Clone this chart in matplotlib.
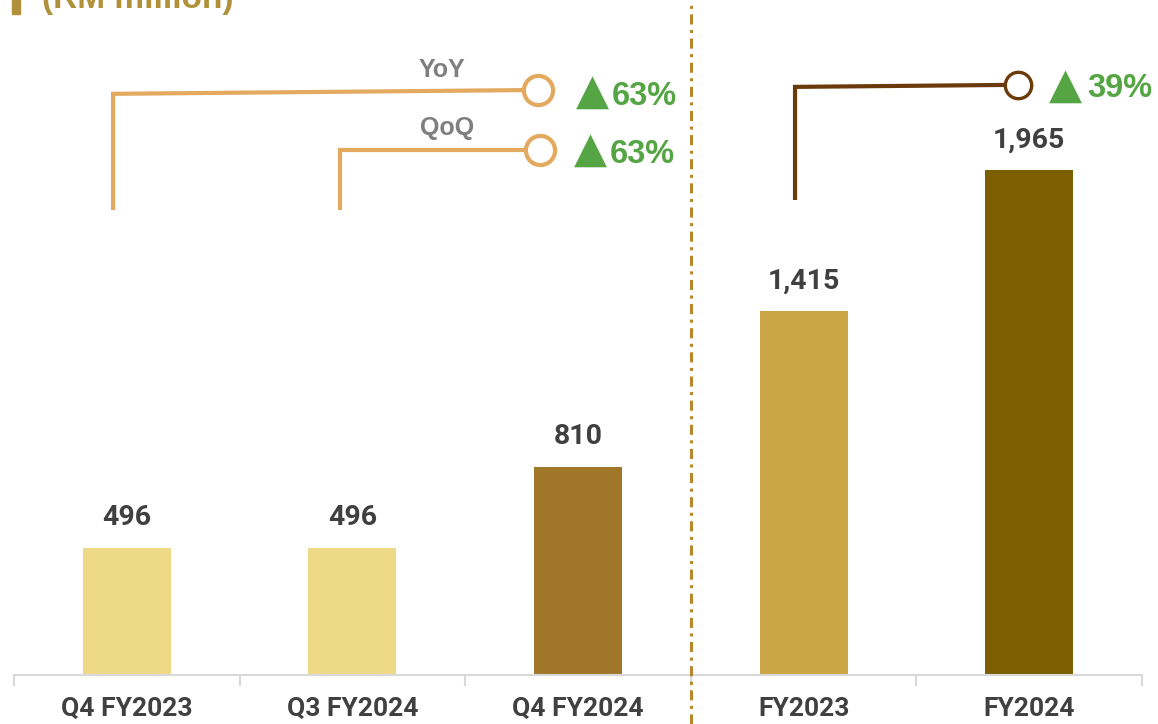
import matplotlib
matplotlib.use("Agg")
import matplotlib.pyplot as plt
from matplotlib.patches import Rectangle

# Revenue data (RM million)
categories = ["Q4 FY2023", "Q3 FY2024", "Q4 FY2024", "FY2023", "FY2024"]
values = [496, 496, 810, 1415, 1965]
bar_colors = ["#EDD986", "#EDD986", "#A07628", "#C9A643", "#7D5E00"]
yoy_q_pct = 63
qoq_q_pct = 63
yoy_fy_pct = 39

W, H = 1158, 724
fig = plt.figure(figsize=(W / 100, H / 100), dpi=100)
ax = fig.add_axes([14 / W, 49 / H, 1128 / W, 675 / H])

x = list(range(len(categories)))
ax.bar(x, values, width=0.39, color=bar_colors, zorder=2)
ax.set_xlim(-0.5, len(categories) - 0.5)
ax.set_ylim(0, 2626)

num_font = ["Roboto", "DejaVu Sans"]
pct_font = ["Liberation Sans", "DejaVu Sans"]
for xi, v in zip(x, values):
    ax.annotate(f"{v:,}", (xi, v), xytext=(0, 12), textcoords="offset points",
                ha="center", va="bottom", fontsize=20.5, fontweight="bold",
                color="#404040", family=num_font)

# axes styling
for s in ["top", "right", "left"]:
    ax.spines[s].set_visible(False)
ax.spines["bottom"].set_color("#D9D9D9")
ax.spines["bottom"].set_linewidth(1.5)
ax.set_yticks([])
ax.set_xticks(x)
ax.set_xticklabels(categories, fontsize=19, fontweight="bold", color="#404040",
                   family=num_font)
ax.tick_params(axis="x", which="major", length=0, pad=16)
ax.set_xticks([i - 0.5 for i in range(len(categories) + 1)], minor=True)
ax.tick_params(axis="x", which="minor", length=8, width=1.5, color="#D9D9D9")

# divider between quarterly and full-year figures
ax.axvline(2.5, ymin=-0.073, ymax=1.0, color="#B8862B", lw=2.2,
           linestyle=(0, (3.3, 1.8, 1.0, 1.8)), clip_on=False, zorder=3)

# growth brackets
light = "#E2A95F"
dark = "#6B3A0A"
green = "#55A545"

def bracket(x0, y0, y1, x1, y2, color, ms, mew):
    ax.plot([x0, x0, x1], [y0, y1, y2], color=color, lw=3, solid_joinstyle="miter",
            solid_capstyle="butt", zorder=4, clip_on=False)
    ax.plot([x1], [y2], marker="o", ms=ms, mfc="white", mec=color, mew=mew,
            zorder=5, clip_on=False)

bracket(-0.061, 1809, 2261, 1.823, 2276, light, 21, 3)
bracket(0.945, 1809, 2043, 1.832, 2043, light, 21, 3)
bracket(2.962, 1848, 2288, 3.950, 2296, dark, 19, 2.4)

label_kw = dict(fontsize=18, fontweight="bold", color="#7F7F7F", family=pct_font,
                ha="center", va="center")
ax.text(1.397, 2354, "YoY", **label_kw)
ax.text(1.419, 2128, "QoQ", **label_kw)

def growth(xt, yt, xp, yp, pct):
    ax.text(xt, yt, "\u25B2", fontsize=31, color=green, ha="center", va="center",
            family=["DejaVu Sans"])
    ax.text(xp, yp, f"{pct}%", fontsize=23.5, fontweight="bold", color=green,
            ha="left", va="center", family=pct_font)

growth(2.062, 2268, 2.148, 2249, yoy_q_pct)
growth(2.053, 2042, 2.139, 2023, qoq_q_pct)
growth(4.159, 2291, 4.258, 2280, yoy_fy_pct)

# unit heading
fig.patches.append(Rectangle((12 / W, 1 - 14 / H), 8 / W, 14 / H,
                             transform=fig.transFigure, color="#B09139", zorder=5))
fig.text(42 / W, 1 - 8 / H, "(RM million)", fontsize=24, fontweight="bold",
         color="#B09139", ha="left", va="baseline", family=pct_font)

fig.savefig("out.png", dpi=100)
